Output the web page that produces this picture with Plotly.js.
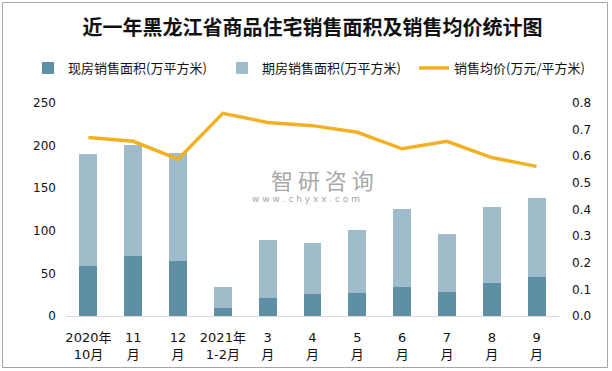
<!DOCTYPE html>
<html>
<head>
<meta charset="utf-8">
<script src="https://cdn.plot.ly/plotly-3.0.1.min.js"></script>
<style>
html,body{margin:0;padding:0;background:#fff;}
#chart{width:612px;height:371px;}
</style>
</head>
<body>
<div id="chart"></div>
<script>
const categories = ["2020年<br>10月","11<br>月","12<br>月","2021年<br>1-2月","3<br>月","4<br>月","5<br>月","6<br>月","7<br>月","8<br>月","9<br>月"];
const spotArea = [58.7,70.4,64.6,9.4,21.0,25.8,27.0,34.0,28.2,38.7,45.8];
const futureArea = [131.3,130.3,126.7,24.6,68.2,59.9,74.0,91.6,68.0,89.3,92.7];
const avgPrice = [0.670,0.656,0.589,0.761,0.727,0.715,0.690,0.628,0.656,0.595,0.562];
const seriesNames = ["现房销售面积(万平方米)","期房销售面积(万平方米)","销售均价(万元/平方米)"];
const titleText = "近一年黑龙江省商品住宅销售面积及销售均价统计图";

const baseFont = "DejaVu Sans, Noto Sans CJK SC, sans-serif";
const cjkFont = "Noto Sans CJK SC, DejaVu Sans, sans-serif";
const W = 612, H = 371, L = 66, R = 53, T = 103, B = 55;
const pw = W - L - R, ph = H - T - B;
function px(x){return (x - L)/pw;}
function py(y){return (H - B - y)/ph;}

const data = [
  {type:"bar", name:seriesNames[0], x:categories, y:spotArea, marker:{color:"#5e8fa5"}, yaxis:"y", legend:"legend"},
  {type:"bar", name:seriesNames[1], x:categories, y:futureArea, marker:{color:"#9fbccb"}, yaxis:"y", legend:"legend2"},
  {type:"scatter", mode:"lines", name:seriesNames[2], x:categories, y:avgPrice, yaxis:"y2", legend:"legend3",
   line:{color:"#f2b124", width:3.5}}
];

function leg(xpix){
  return {orientation:"h", x:px(xpix), xanchor:"left", y:py(68), yanchor:"middle",
          font:{size:13, family:cjkFont, color:"#111"}, itemwidth:30, bgcolor:"rgba(0,0,0,0)"};
}

const layout = {
  width:W, height:H,
  margin:{l:L, r:R, t:T, b:B},
  paper_bgcolor:"#ffffff", plot_bgcolor:"#ffffff",
  barmode:"stack", bargap:0.6,
  font:{family:baseFont, size:12, color:"#000"},
  title:{text:titleText, font:{family:cjkFont, size:20, color:"#111", weight:"bold"},
         x:0.5, xanchor:"center", y:1-28/H, yanchor:"middle", xref:"paper"},
  showlegend:true,
  legend:leg(28), legend2:leg(222), legend3:leg(414),
  xaxis:{type:"category", showline:true, linecolor:"#d9d9d9", linewidth:1, ticks:"",
         showgrid:false, zeroline:false, tickfont:{size:13, family:baseFont, color:"#111"},
         ticklabelstandoff:9, fixedrange:true},
  yaxis:{range:[0,250], dtick:50, showgrid:false, zeroline:false, showline:false, ticks:"",
         tickfont:{size:12, family:baseFont, color:"#111"}, ticklabelstandoff:9},
  yaxis2:{range:[0,0.8], dtick:0.1, tickformat:".1f", overlaying:"y", side:"right", showgrid:false,
          zeroline:false, showline:false, ticks:"", tickfont:{size:12, family:baseFont, color:"#111"}, ticklabelstandoff:12},
  shapes:[
    {type:"rect", xref:"paper", yref:"paper", x0:px(2.5), x1:px(607.5), y0:py(367.5), y1:py(2.5),
     line:{color:"#a6a6a6", width:1}, fillcolor:"rgba(0,0,0,0)", layer:"below"}
  ],
  annotations:[
    {text:"智 研 咨 询", xref:"paper", yref:"paper", x:px(322), y:py(179), showarrow:false,
     font:{family:cjkFont, size:22, color:"#a8a8a8"}},
    {text:"w w w . c h y x x . c o m", xref:"paper", yref:"paper", x:px(306), y:py(199), showarrow:false,
     font:{family:"DejaVu Sans, sans-serif", size:9, color:"#a8a8a8"}}
  ]
};

Plotly.newPlot("chart", data, layout, {displayModeBar:false, staticPlot:true});
</script>
</body>
</html>
